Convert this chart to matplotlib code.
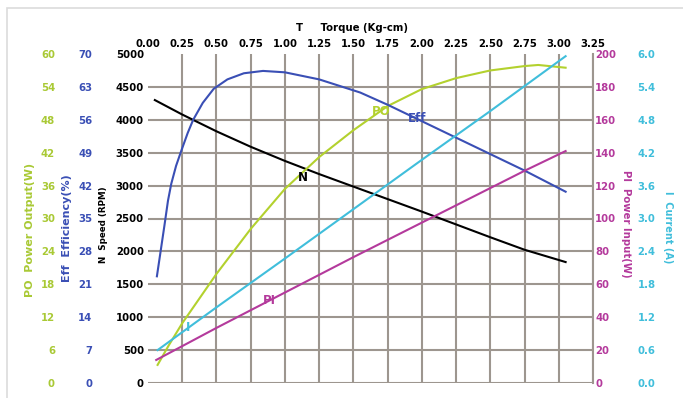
import numpy as np
import matplotlib
matplotlib.use("Agg")
import matplotlib.pyplot as plt
from matplotlib.patches import Rectangle

# curve data (torque in Kg-cm)
torque_n = [0.05, 0.25, 0.50, 0.75, 1.00, 1.25, 1.50, 1.75, 2.00, 2.25, 2.50, 2.75, 3.05]
speed = [4300, 4080, 3825, 3590, 3375, 3175, 2985, 2795, 2605, 2410, 2215, 2025, 1838]

torque_eff = [0.065, 0.09, 0.12, 0.146, 0.17, 0.205, 0.243, 0.29, 0.33, 0.40, 0.48,
              0.58, 0.70, 0.84, 1.00, 1.25, 1.55, 1.75, 2.00, 2.25, 2.50, 2.75, 3.05]
efficiency = [22.7, 27.6, 33.5, 38.8, 42.4, 46.2, 49.4, 53.2, 56.0, 59.6, 62.6,
              64.6, 65.9, 66.4, 66.1, 64.6, 61.8, 59.2, 55.7, 52.2, 48.7, 45.2, 40.7]

torque_po = [0.07, 0.15, 0.25, 0.50, 0.75, 1.00, 1.25, 1.50, 1.75, 2.00, 2.25, 2.50,
             2.75, 2.85, 3.05]
power_out = [3.3, 6.8, 10.9, 19.9, 28.1, 35.4, 41.2, 46.1, 50.5, 53.6, 55.6, 57.0,
             57.8, 58.0, 57.5]

torque_i = [0.07, 0.50, 1.00, 1.50, 2.00, 2.50, 3.05]
current = [0.60, 1.38, 2.27, 3.17, 4.07, 4.96, 5.96]

torque_pi = [0.06, 0.50, 1.00, 1.50, 2.00, 2.50, 2.75, 3.05]
power_in = [14.0, 33.5, 55.0, 76.5, 97.5, 118.5, 129.0, 141.0]

x_ticks = np.arange(0, 3.26, 0.25)
n_ticks = np.arange(0, 5001, 500)
po_ticks = np.arange(0, 61, 6)
eff_ticks = np.arange(0, 71, 7)
pi_ticks = np.arange(0, 201, 20)
i_ticks = np.arange(0, 6.01, 0.6)

c_po = "#b3d12e"
c_po_txt = "#a9c935"
c_eff = "#3a4fb5"
c_pi = "#b43a9c"
c_i = "#40bedb"
c_grid = "#9d968f"

fig = plt.figure(figsize=(6.83, 3.98), dpi=100)

# light frame round the picture
fig.patches.append(Rectangle((7 / 683, -0.1), 1.2, 1 - 8 / 398 + 0.1,
                             transform=fig.transFigure, fill=False,
                             edgecolor="#dcdcdc", lw=1.2))

ax = fig.add_axes([148 / 683, 1 - 383 / 398, 445 / 683, 329 / 398])
ax.set_xlim(0, 3.25)
ax.set_ylim(0, 5000)
for s in ax.spines.values():
    s.set_visible(False)

for t in x_ticks[1:]:
    ax.axvline(t, color=c_grid, lw=1.5, zorder=0)
for v in n_ticks[:-1]:
    ax.axhline(v, color=c_grid, lw=1.5, zorder=0)

ax.set_xticks(x_ticks)
ax.set_xticklabels([f"{t:.2f}" for t in x_ticks])
ax.set_yticks(n_ticks)
ax.tick_params(axis="x", length=0, pad=3.5, labelsize=7.3,
               top=True, labeltop=True, bottom=False, labelbottom=False)
ax.tick_params(axis="y", length=0, pad=3, labelsize=7.3)
for lab in ax.get_xticklabels() + ax.get_yticklabels():
    lab.set_fontweight("bold")

ax.plot(torque_n, speed, color="black", lw=1.5)


def side_axis(ylim, ticks, fmt, color, side, pad):
    a = ax.twinx()
    a.set_ylim(*ylim)
    for s in a.spines.values():
        s.set_visible(False)
    if side == "left":
        a.yaxis.tick_left()
    else:
        a.yaxis.tick_right()
    a.set_yticks(ticks)
    a.set_yticklabels([fmt.format(t) for t in ticks])
    a.tick_params(axis="y", length=0, pad=pad, labelsize=7.3, labelcolor=color)
    a.tick_params(axis="x", top=False, bottom=False,
                  labeltop=False, labelbottom=False)
    for lab in a.get_yticklabels():
        lab.set_fontweight("bold")
    return a


ax_po = side_axis((0, 60), po_ticks, "{:.0f}", c_po_txt, "left", 67)
ax_eff = side_axis((0, 70), eff_ticks, "{:.0f}", c_eff, "left", 40)
ax_pi = side_axis((0, 200), pi_ticks, "{:.0f}", c_pi, "right", 1.5)
ax_i = side_axis((0, 6.0), i_ticks, "{:.1f}", c_i, "right", 32)
ax_pi.spines["right"].set_visible(True)
ax_pi.spines["right"].set_color(c_grid)
ax_pi.spines["right"].set_linewidth(1.5)

ax_po.plot(torque_po, power_out, color=c_po, lw=1.5)
ax_eff.plot(torque_eff, efficiency, color=c_eff, lw=1.5)
ax_pi.plot(torque_pi, power_in, color=c_pi, lw=1.5)
ax_i.plot(torque_i, current, color=c_i, lw=1.5)

# curve labels
ax_i.text(1.13, 3.75, "N", color="black", fontsize=8.5, fontweight="bold",
          ha="center", va="center")
ax_po.text(1.70, 49.5, "PO", color=c_po, fontsize=8.5, fontweight="bold",
           ha="center", va="center")
ax_eff.text(1.965, 56.2, "Eff", color=c_eff, fontsize=8.5, fontweight="bold",
            ha="center", va="center")
ax_pi.text(0.89, 50.3, "PI", color=c_pi, fontsize=8.5, fontweight="bold",
           ha="center", va="center")
ax_i.text(0.29, 1.02, "I", color=c_i, fontsize=8.5, fontweight="bold",
          ha="center", va="center")

# axis titles
fig.text(296 / 683, 1 - 28 / 398, "T     Torque (Kg-cm)", fontsize=7.3,
         fontweight="bold", ha="left", va="center")
fig.text(30 / 683, 1 - 230 / 398, "PO  Power Output(W)", color=c_po_txt,
         fontsize=8, fontweight="bold", rotation=90, ha="center", va="center")
fig.text(67 / 683, 1 - 228 / 398, "Eff  Efficiency(%)", color=c_eff,
         fontsize=8, fontweight="bold", rotation=90, ha="center", va="center")
fig.text(104 / 683, 1 - 225 / 398, "N  Speed (RPM)", color="black",
         fontsize=6.3, fontweight="bold", rotation=90, ha="center", va="center")
fig.text(626 / 683, 1 - 224 / 398, "PI  Power Input(W)", color=c_pi,
         fontsize=7.3, fontweight="bold", rotation=270, ha="center", va="center")
fig.text(668 / 683, 1 - 227 / 398, "I  Current (A)", color=c_i,
         fontsize=7, fontweight="bold", rotation=270, ha="center", va="center")

fig.savefig("out.png", dpi=100)
